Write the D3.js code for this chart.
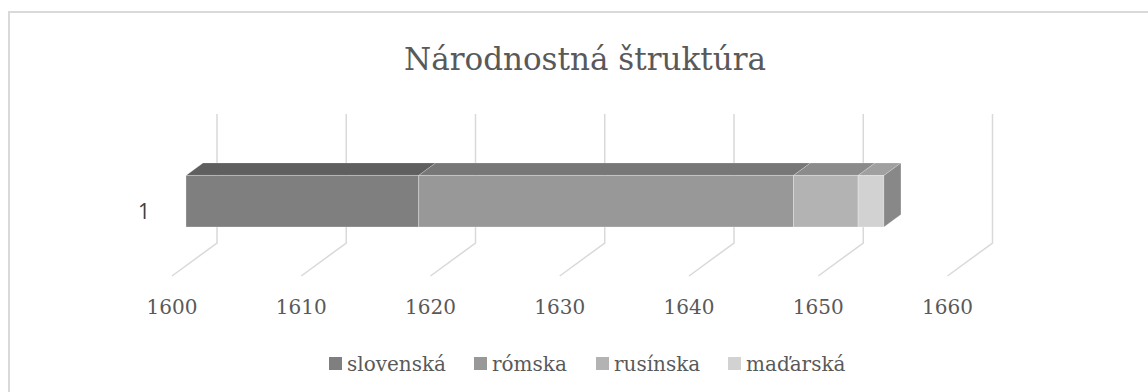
<!DOCTYPE html>
<html>
<head>
<meta charset="utf-8">
<script src="https://cdn.jsdelivr.net/npm/d3@7"></script>
<style>
  html, body { margin: 0; padding: 0; background: #ffffff; }
  svg { display: block; }
</style>
</head>
<body>
<svg id="chart" width="1148" height="392"></svg>
<script>
// Population by nationality, one stacked 3D bar
const title = "Národnostná štruktúra";
const categories = ["1"];
const seriesNames = ["slovenská", "rómska", "rusínska", "maďarská"];
const seriesValues = [1618, 29, 5, 2];
const xTicks = [1600, 1610, 1620, 1630, 1640, 1650, 1660];

const frontColors = ["#7f7f7f", "#989898", "#b3b3b3", "#d2d2d2"];
const topColors   = ["#5f5f5f", "#777777", "#8b8b8b", "#a0a0a0"];
const sideColor   = "#888888";

const svg = d3.select("#chart");
const W = 1148, H = 392;

// chart area frame
svg.append("rect")
  .attr("x", 9).attr("y", 12)
  .attr("width", W + 20).attr("height", H + 20)
  .attr("fill", "#ffffff")
  .attr("stroke", "#d9d9d9").attr("stroke-width", 2);

// oblique projection of the plot box
const wallTop = 114, floorY = 243;     // back wall top / bottom
const depthDx = -45, depthDy = 33;    // floor depth offset (back -> front)
const x = d3.scaleLinear().domain([1600, 1660]).range([217, 992.5]);
const h = d3.scaleBand().domain(categories)
  .range([0, floorY - wallTop]).paddingInner(0.6).paddingOuter(0.3);
const zFront = 0.689, zBack = 0.311; // bar depth span on the floor

function proj(v, height, z) {
  return [x(v) + depthDx * z, floorY - height + depthDy * z];
}

const grid = svg.append("g");
xTicks.forEach(t => {
  const [bx, by] = proj(t, 0, 0);
  const [tx, ty] = proj(t, floorY - wallTop, 0);
  const [fx, fy] = proj(t, 0, 1);
  grid.append("path")
    .attr("d", `M${tx},${ty}L${bx},${by}L${fx},${fy}`)
    .attr("fill", "none").attr("stroke", "#d9d9d9").attr("stroke-width", 1.5);
  svg.append("text")
    .attr("x", fx).attr("y", 314)
    .attr("text-anchor", "middle")
    .attr("font-family", "DejaVu Serif, serif")
    .attr("font-size", 20)
    .attr("fill", "#595959")
    .text(t);
});

// stacked segments
let acc = 0;
const stacks = seriesValues.map((v, i) => {
  const s = { i, x0: i === 0 ? 1600 : acc, x1: i === 0 ? v : acc + v };
  acc = s.x1;
  return s;
});

const bars = svg.append("g");
categories.forEach(c => {
  const hb = h(c), ht = h(c) + h.bandwidth();
  stacks.forEach(s => {
    const poly = pts => pts.map(p => p.join(",")).join(" ");
    // top face
    bars.append("polygon")
      .attr("points", poly([proj(s.x0, ht, zFront), proj(s.x1, ht, zFront),
                            proj(s.x1, ht, zBack), proj(s.x0, ht, zBack)]))
      .attr("fill", topColors[s.i])
      .attr("stroke", "rgba(255,255,255,0.25)").attr("stroke-width", 0.8);
    // front face
    bars.append("polygon")
      .attr("points", poly([proj(s.x0, hb, zFront), proj(s.x1, hb, zFront),
                            proj(s.x1, ht, zFront), proj(s.x0, ht, zFront)]))
      .attr("fill", frontColors[s.i])
      .attr("stroke", "rgba(255,255,255,0.35)").attr("stroke-width", 0.8);
  });
  // right end face
  const last = stacks[stacks.length - 1];
  bars.append("polygon")
    .attr("points", [proj(last.x1, hb, zFront), proj(last.x1, hb, zBack),
                     proj(last.x1, ht, zBack), proj(last.x1, ht, zFront)]
                     .map(p => p.join(",")).join(" "))
    .attr("fill", sideColor)
    .attr("stroke", "rgba(255,255,255,0.25)").attr("stroke-width", 0.8);

  // category label
  const [lx, ly] = proj(1600, hb + h.bandwidth() / 2, 1);
  svg.append("text")
    .attr("x", lx - 22).attr("y", ly)
    .attr("dy", "0.36em")
    .attr("text-anchor", "end")
    .attr("font-family", "Open Sans, sans-serif")
    .attr("font-size", 21)
    .attr("fill", "#404040")
    .text(c);
});

// title
svg.append("text")
  .attr("x", 585).attr("y", 70)
  .attr("text-anchor", "middle")
  .attr("font-family", "DejaVu Serif, serif")
  .attr("font-size", 31)
  .attr("fill", "#595959")
  .text(title);

// legend
const legendX = [329, 474, 596, 728];
const legend = svg.append("g");
seriesNames.forEach((n, i) => {
  legend.append("rect")
    .attr("x", legendX[i]).attr("y", 357)
    .attr("width", 13).attr("height", 13)
    .attr("fill", frontColors[i]);
  legend.append("text")
    .attr("x", legendX[i] + 18).attr("y", 371)
    .attr("font-family", "DejaVu Serif, serif")
    .attr("font-size", 20)
    .attr("fill", "#595959")
    .text(n);
});
</script>
</body>
</html>
